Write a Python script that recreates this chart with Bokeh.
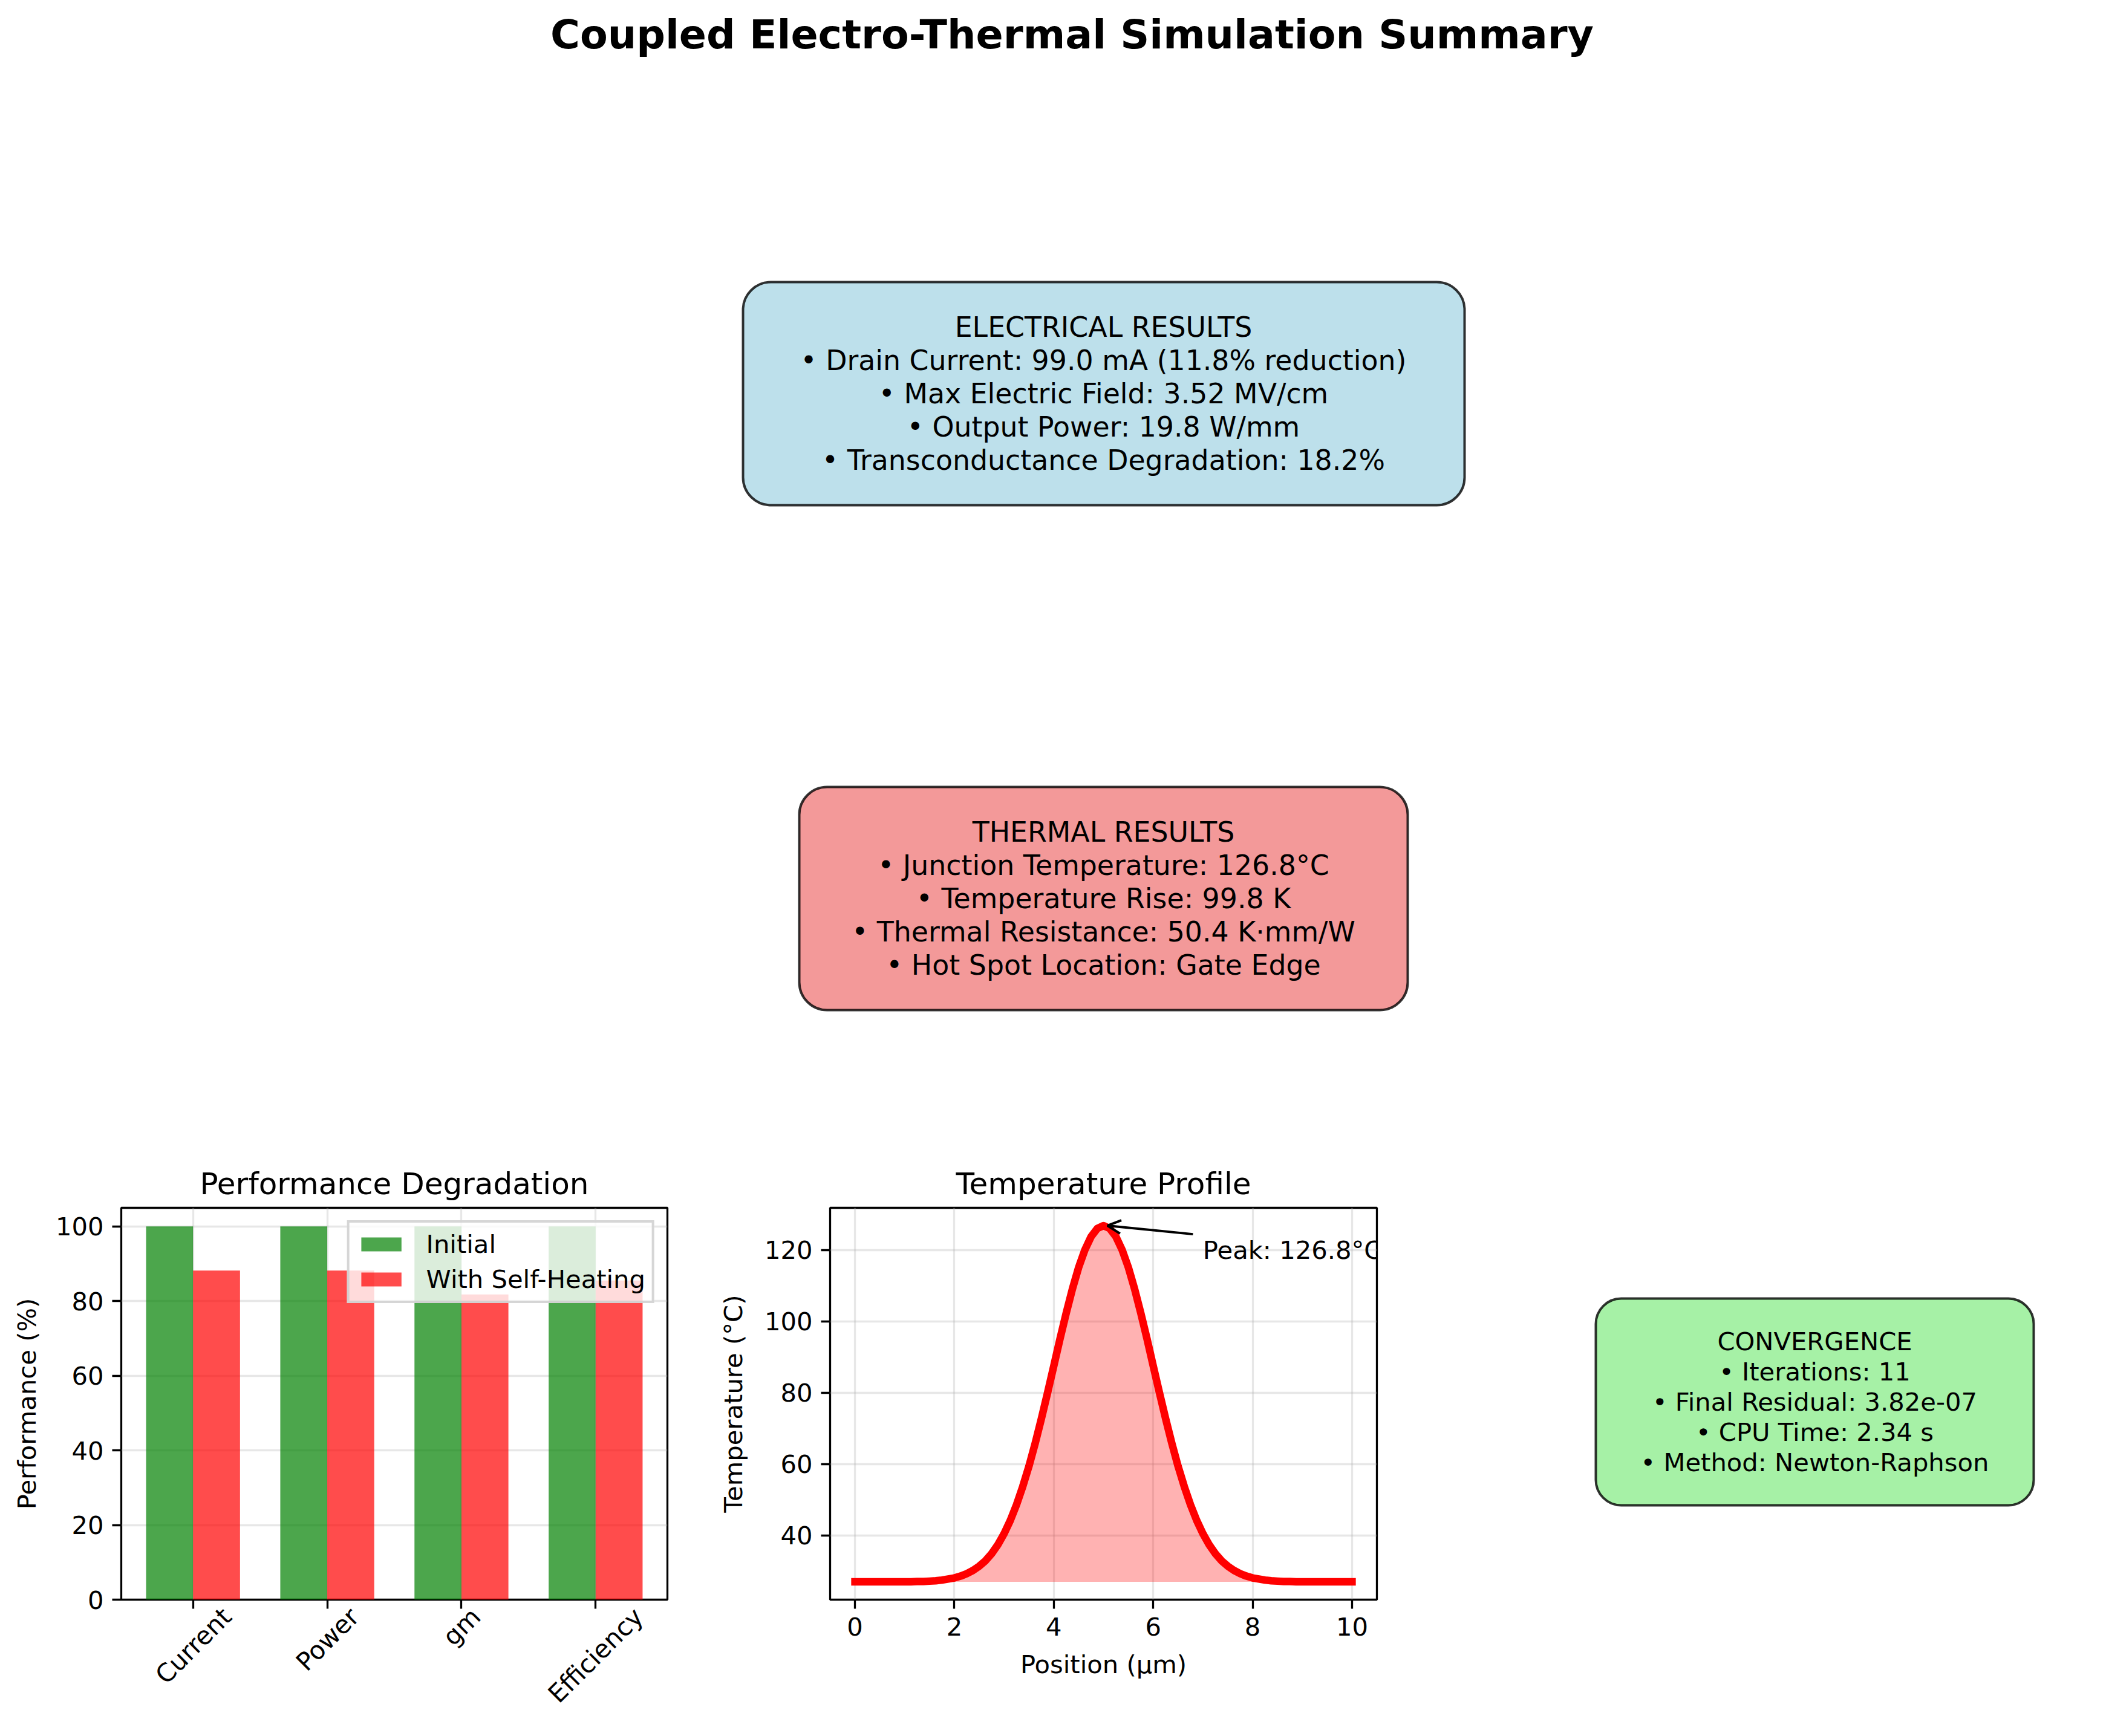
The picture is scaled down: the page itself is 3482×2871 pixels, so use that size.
import math
from bokeh.plotting import figure
from bokeh.models import (Range1d, BoxAnnotation, FixedTicker, Label, Arrow, OpenHead,
                          LinearAxis)
from bokeh.layouts import column, row
from bokeh.core.properties import value
from bokeh.embed import file_html
from bokeh.resources import INLINE

FONT = "DejaVu Sans"

# ---------------- data ----------------
suptitle = "Coupled Electro-Thermal Simulation Summary"

categories = ["Current", "Power", "gm", "Efficiency"]
initial_perf = [100.0, 100.0, 100.0, 100.0]
selfheat_perf = [88.2, 88.2, 81.8, 85.5]
bar_title = "Performance Degradation"
bar_ylabel = "Performance (%)"
bar_yticks = [0, 20, 40, 60, 80, 100]

position_um = [
    0.0, 0.125, 0.25, 0.375, 0.5, 0.625, 0.75, 0.875, 1.0, 1.125,
    1.25, 1.375, 1.5, 1.625, 1.75, 1.875, 2.0, 2.125, 2.25, 2.375,
    2.5, 2.625, 2.75, 2.875, 3.0, 3.125, 3.25, 3.375, 3.5, 3.625,
    3.75, 3.875, 4.0, 4.125, 4.25, 4.375, 4.5, 4.625, 4.75, 4.875,
    5.0, 5.125, 5.25, 5.375, 5.5, 5.625, 5.75, 5.875, 6.0, 6.125,
    6.25, 6.375, 6.5, 6.625, 6.75, 6.875, 7.0, 7.125, 7.25, 7.375,
    7.5, 7.625, 7.75, 7.875, 8.0, 8.125, 8.25, 8.375, 8.5, 8.625,
    8.75, 8.875, 9.0, 9.125, 9.25, 9.375, 9.5, 9.625, 9.75, 9.875,
    10.0,
]
temperature_c = [
    27.0, 27.0, 27.0, 27.0, 27.0, 27.0, 27.0, 27.0, 27.0, 27.0,
    27.1, 27.1, 27.2, 27.3, 27.5, 27.8, 28.1, 28.6, 29.3, 30.2,
    31.4, 32.9, 34.9, 37.4, 40.5, 44.2, 48.6, 53.7, 59.4, 65.8,
    72.7, 80.0, 87.5, 95.1, 102.3, 109.1, 115.1, 120.0, 123.7, 126.0,
    126.8, 126.0, 123.7, 120.0, 115.1, 109.1, 102.3, 95.1, 87.5, 80.0,
    72.7, 65.8, 59.4, 53.7, 48.6, 44.2, 40.5, 37.4, 34.9, 32.9,
    31.4, 30.2, 29.3, 28.6, 28.1, 27.8, 27.5, 27.3, 27.2, 27.1,
    27.1, 27.0, 27.0, 27.0, 27.0, 27.0, 27.0, 27.0, 27.0, 27.0,
    27.0,
]
ambient_c = 27.0
temp_title = "Temperature Profile"
temp_xlabel = "Position (μm)"
temp_ylabel = "Temperature (°C)"
temp_xticks = [0, 2, 4, 6, 8, 10]
temp_yticks = [40, 60, 80, 100, 120]
peak_label = "Peak: 126.8°C"
peak_label_pos = (7.0, 120.0)

elec_lines = ["ELECTRICAL RESULTS",
              "• Drain Current: 99.0 mA (11.8% reduction)",
              "• Max Electric Field: 3.52 MV/cm",
              "• Output Power: 19.8 W/mm",
              "• Transconductance Degradation: 18.2%"]
thermal_lines = ["THERMAL RESULTS",
                 "• Junction Temperature: 126.8°C",
                 "• Temperature Rise: 99.8 K",
                 "• Thermal Resistance: 50.4 K·mm/W",
                 "• Hot Spot Location: Gate Edge"]
conv_lines = ["CONVERGENCE",
              "• Iterations: 11",
              "• Final Residual: 3.82e-07",
              "• CPU Time: 2.34 s",
              "• Method: Newton-Raphson"]

# ---------------- layout constants (pixels) ----------------
W = 3482
H_TOP = 1858
H_BOT = 1000
BORDER_TOP = 139
BORDER_BOTTOM = 213
FRAME_H = H_BOT - BORDER_TOP - BORDER_BOTTOM
BAR_W_PX = 1180
TEMP_W_PX = 1278
FS_TICK = "41.7px"
GRID_COLOR = "#b0b0b0"
BAR_FRAME_W = 903
BAR_XRANGE = (-0.535, 3.535)
# horizontal shift (px) that centres each rotated label under its tick
label_shift_px = [56, 45, 24, 71]


def add_text_box(p, ymap, lines, cx, cy, ls, fs, box, color, radius):
    left, right, top_, bottom = box
    p.add_layout(BoxAnnotation(left=left, right=right, top=ymap(top_),
                               bottom=ymap(bottom), fill_color=color,
                               fill_alpha=0.8, line_color="black", line_alpha=0.8,
                               line_width=4, border_radius=radius, level="underlay"))
    n = len(lines)
    ys = [ymap(cy + (i - (n - 1) / 2) * ls) for i in range(n)]
    p.text(x=[cx] * n, y=ys, text=lines, text_font=value(FONT),
           text_font_size=value(fs), text_align="center",
           text_baseline="middle", text_color="black")


# ---------------- top canvas ----------------
top = figure(width=W, height=H_TOP, x_range=Range1d(0, W), y_range=Range1d(0, H_TOP),
             x_axis_type=None, y_axis_type=None, toolbar_location=None,
             output_backend="svg", min_border_left=0, min_border_right=0,
             min_border_top=0, min_border_bottom=0, outline_line_color=None)
top.background_fill_color = "white"
top.border_fill_color = "white"


def ytop(y):
    return H_TOP - y


top.text(x=[1772], y=[ytop(56)], text=[suptitle], text_font=value(FONT),
         text_font_size=value("66.7px"), text_font_style="bold",
         text_align="center", text_baseline="middle", text_color="black")
add_text_box(top, ytop, elec_lines, 1824, 650, 55, "45.8px",
             (1228, 2421, 466, 835), "lightblue", 46)
add_text_box(top, ytop, thermal_lines, 1824, 1485, 55, "45.8px",
             (1321, 2327, 1301, 1670), "lightcoral", 46)


def style_axes(p):
    p.background_fill_color = "white"
    p.border_fill_color = "white"
    p.outline_line_color = "black"
    p.outline_line_width = 3.3
    p.outline_line_alpha = 1.0
    for ax in (p.xaxis, p.yaxis):
        ax.axis_line_color = None
        ax.major_tick_line_color = "black"
        ax.major_tick_line_width = 3.3
        ax.major_tick_in = 0
        ax.major_tick_out = 15
        ax.minor_tick_line_color = None
        ax.major_label_text_font = FONT
        ax.major_label_text_font_size = FS_TICK
        ax.major_label_text_color = "black"
        ax.major_label_standoff = 14
        ax.axis_label_text_font = FONT
        ax.axis_label_text_font_size = FS_TICK
        ax.axis_label_text_font_style = "normal"
        ax.axis_label_text_color = "black"
        ax.axis_label_standoff = 20
    for g in (p.xgrid, p.ygrid):
        g.grid_line_color = GRID_COLOR
        g.grid_line_alpha = 0.3
        g.grid_line_width = 3.3
    p.title.text_font = FONT
    p.title.text_font_size = "50px"
    p.title.text_font_style = "normal"
    p.title.text_color = "black"
    p.title.align = "center"
    p.title.standoff = 22


# ---------------- bar chart ----------------
bar_w = 0.35
idx = list(range(len(categories)))
bar = figure(width=BAR_W_PX, height=H_BOT, x_range=Range1d(*BAR_XRANGE),
             y_range=Range1d(0, 105), toolbar_location=None, output_backend="svg",
             min_border_left=200, min_border_right=BAR_W_PX - 200 - BAR_FRAME_W,
             min_border_top=BORDER_TOP, min_border_bottom=BORDER_BOTTOM,
             title=bar_title, y_axis_label=bar_ylabel)
bar.vbar(x=[i - bar_w / 2 for i in idx], top=initial_perf, width=bar_w,
         fill_color="green", fill_alpha=0.7, line_color=None, legend_label="Initial")
bar.vbar(x=[i + bar_w / 2 for i in idx], top=selfheat_perf, width=bar_w,
         fill_color="red", fill_alpha=0.7, line_color=None,
         legend_label="With Self-Heating")
style_axes(bar)
bar.xaxis.ticker = FixedTicker(ticks=idx)
bar.xaxis.major_label_overrides = {i: "" for i in idx}
bar.xaxis.major_label_text_font_size = "1px"
bar.xaxis.major_label_standoff = 0
bar.xaxis.axis_label_standoff = 0
bar.yaxis.ticker = FixedTicker(ticks=bar_yticks)

px_per_unit = BAR_FRAME_W / (BAR_XRANGE[1] - BAR_XRANGE[0])
label_pos = [i + s / px_per_unit for i, s in zip(idx, label_shift_px)]
label_axis = LinearAxis(ticker=FixedTicker(ticks=label_pos),
                        major_label_overrides={t: c for t, c in zip(label_pos, categories)},
                        major_label_orientation=math.pi / 4,
                        major_tick_in=0, major_tick_out=0, major_tick_line_color=None,
                        minor_tick_line_color=None, axis_line_color=None,
                        major_label_standoff=6, major_label_text_font=FONT,
                        major_label_text_font_size=FS_TICK,
                        major_label_text_color="black")
bar.add_layout(label_axis, "below")

lg = bar.legend[0]
lg.location = "top_right"
lg.margin = 21
lg.padding = 11
lg.spacing = 9
lg.label_text_font = FONT
lg.label_text_font_size = FS_TICK
lg.label_text_color = "black"
lg.label_height = 42
lg.glyph_height = 29
lg.glyph_width = 83
lg.label_standoff = 33
lg.background_fill_color = "white"
lg.background_fill_alpha = 0.8
lg.border_line_color = "#cccccc"
lg.border_line_width = 4
lg.border_line_alpha = 0.8

# ---------------- temperature profile ----------------
temp = figure(width=TEMP_W_PX, height=H_BOT, x_range=Range1d(-0.5, 10.5),
              y_range=Range1d(22.01, 131.79), toolbar_location=None,
              output_backend="svg", min_border_left=1372 - BAR_W_PX,
              min_border_right=BAR_W_PX + TEMP_W_PX - 2276,
              min_border_top=BORDER_TOP, min_border_bottom=BORDER_BOTTOM,
              title=temp_title, x_axis_label=temp_xlabel, y_axis_label=temp_ylabel)
temp.varea(x=position_um, y1=[ambient_c] * len(position_um), y2=temperature_c,
           fill_color="red", fill_alpha=0.3)
temp.line(position_um, temperature_c, line_color="red", line_width=12.5,
          line_cap="square", line_join="round")
style_axes(temp)
temp.yaxis.axis_label_standoff = 24
temp.xaxis.ticker = FixedTicker(ticks=temp_xticks)
temp.yaxis.ticker = FixedTicker(ticks=temp_yticks)
peak_T = max(temperature_c)
peak_x = position_um[temperature_c.index(peak_T)]
temp.add_layout(Label(x=peak_label_pos[0], y=peak_label_pos[1], text=peak_label,
                      text_font=FONT, text_font_size=FS_TICK, text_color="black",
                      text_align="left", text_baseline="alphabetic"))
temp.add_layout(Arrow(end=OpenHead(size=22, line_width=4, line_color="black"),
                      x_start=peak_label_pos[0] - 0.2, y_start=peak_label_pos[1] + 4.4,
                      x_end=peak_x + 0.08, y_end=peak_T,
                      line_width=4, line_color="black"))

# ---------------- convergence box (frame aligned with the other plots) ----------------
CONV_X0 = BAR_W_PX + TEMP_W_PX
CONV_W = W - CONV_X0
FRAME_BOTTOM_Y = H_TOP + BORDER_TOP + FRAME_H
conv = figure(width=CONV_W, height=H_BOT, x_range=Range1d(0, CONV_W),
              y_range=Range1d(0, FRAME_H), x_axis_type=None, y_axis_type=None,
              toolbar_location=None, output_backend="svg", min_border_left=0,
              min_border_right=0, min_border_top=BORDER_TOP,
              min_border_bottom=BORDER_BOTTOM, outline_line_color=None)
conv.background_fill_color = "white"
conv.border_fill_color = "white"


def yconv(y):
    return FRAME_BOTTOM_Y - y


add_text_box(conv, yconv, conv_lines, 3000 - CONV_X0, 2318, 50, "41.7px",
             (2638 - CONV_X0, 3362 - CONV_X0, 2147, 2489), "lightgreen", 42)

layout = column(top, row(bar, temp, conv))
open("out.html", "w").write(file_html(layout, INLINE))
